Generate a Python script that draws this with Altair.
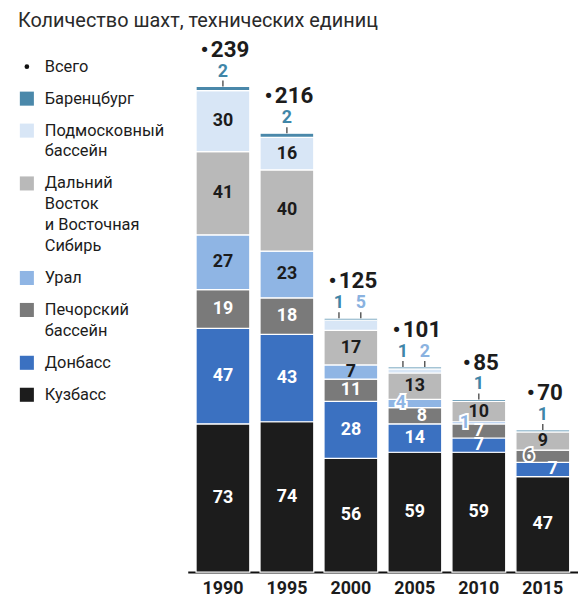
import altair as alt
import pandas as pd

# ---------------- data ----------------
years = ["1990", "1995", "2000", "2005", "2010", "2015"]
regions = ["Кузбасс", "Донбасс", "Печорский бассейн", "Урал",
           "Дальний Восток и Восточная Сибирь", "Подмосковный бассейн", "Баренцбург"]
kuzbass = [73, 74, 56, 59, 59, 47]
donbass = [47, 43, 28, 14, 7, 7]
pechora = [19, 18, 11, 8, 7, 6]
ural = [27, 23, 7, 4, 1, 0]
far_east = [41, 40, 17, 13, 10, 9]
podmoskovny = [30, 16, 5, 2, 0, 0]
barentsburg = [2, 2, 1, 1, 1, 1]
totals = [239, 216, 125, 101, 85, 70]

title_text = "Количество шахт, технических единиц"
legend_items = [["Всего"], ["Баренцбург"], ["Подмосковный", "бассейн"],
                ["Дальний", "Восток", "и Восточная", "Сибирь"], ["Урал"],
                ["Печорский", "бассейн"], ["Донбасс"], ["Кузбасс"]]

# ---------------- styles ----------------
colors = ["#1c1c1c", "#3b71c1", "#7a7a7a", "#8fb5e4", "#b9b9b9", "#d8e6f6", "#4a88aa"]
text_on = ["#ffffff", "#ffffff", "#ffffff", "#1c1c1c", "#1c1c1c", "#1c1c1c", "#1c1c1c"]
label_color_above = {"Баренцбург": "#3f86a8", "Подмосковный бассейн": "#8ab2e0"}
legend_colors = [None, colors[6], colors[5], colors[4], colors[3], colors[2], colors[1], colors[0]]
FONT = "Roboto"
W, H = 574, 566
TOP_PX = 77          # pixel y of top of the 239 bar
K = (H - TOP_PX) / 239.0
YMAX = H / K
shift_right = {("2005", "Печорский бассейн"): 7, ("2015", "Донбасс"): 10}

series = [kuzbass, donbass, pechora, ural, far_east, podmoskovny, barentsburg]

rows = []
for i, y in enumerate(years):
    base = 0
    for r, reg in enumerate(regions):
        v = series[r][i]
        rows.append(dict(year=y, region=reg, order=r, value=v, y0=base, y1=base + v,
                         mid=base + v / 2, color=colors[r], tcolor=text_on[r]))
        base += v
seg = pd.DataFrame(rows)
seg = seg[seg.value > 0]

xenc = alt.X("year:N", sort=years,
             scale=alt.Scale(range=[181, 574], paddingInner=0.16, paddingOuter=0.13),
             axis=alt.Axis(title=None, labelAngle=0, ticks=False, domainColor="#111111",
                           domainWidth=2, labelFont=FONT, labelFontSize=18,
                           labelFontWeight="bold", labelColor="#1c1c1c", labelPadding=8))
yscale = alt.Scale(domain=[0, YMAX], nice=False, zero=True)

bars = alt.Chart(seg).mark_bar(stroke="white", strokeWidth=1.2).encode(
    x=xenc,
    y=alt.Y("y0:Q", scale=yscale, axis=None),
    y2="y1:Q",
    color=alt.Color("color:N", scale=None, legend=None),
)

layers = [bars]

inside, outlined, above = [], [], []
tops = {y: totals[i] for i, y in enumerate(years)}
for _, r in seg.iterrows():
    if r.region == "Баренцбург":
        podm = podmoskovny[years.index(r.year)]
        dx = -12 if 0 < podm <= 5 else 0
        above.append(dict(year=r.year, top=tops[r.year], label=str(r.value),
                          c=label_color_above[r.region], dx=dx))
    elif r.region == "Подмосковный бассейн" and r.value <= 5:
        above.append(dict(year=r.year, top=tops[r.year], label=str(r.value),
                          c=label_color_above[r.region], dx=10))
    elif r.value <= 6:
        outlined.append(dict(year=r.year, mid=r.mid, label=str(r.value), c=r.color, dx=-14))
    else:
        inside.append(dict(year=r.year, mid=r.mid, label=str(r.value), c=r.tcolor,
                           dx=shift_right.get((r.year, r.region), 0)))

inside_df = pd.DataFrame(inside)
for dx in sorted(inside_df.dx.unique()):
    sub = inside_df[inside_df.dx == dx]
    layers.append(alt.Chart(sub).mark_text(font=FONT, fontSize=18, fontWeight="bold",
                                           dx=int(dx), baseline="middle").encode(
        x=alt.X("year:N", sort=years), y=alt.Y("mid:Q", scale=yscale),
        text="label:N", color=alt.Color("c:N", scale=None)))

out_df = pd.DataFrame(outlined)
layers.append(alt.Chart(out_df).mark_text(font=FONT, fontSize=18, fontWeight="bold", dx=-14,
                                          baseline="middle", stroke="white", strokeWidth=4,
                                          fill="white").encode(
    x=alt.X("year:N", sort=years), y=alt.Y("mid:Q", scale=yscale), text="label:N"))
layers.append(alt.Chart(out_df).mark_text(font=FONT, fontSize=18, fontWeight="bold", dx=-14,
                                          baseline="middle").encode(
    x=alt.X("year:N", sort=years), y=alt.Y("mid:Q", scale=yscale), text="label:N",
    color=alt.Color("c:N", scale=None)))

ab_df = pd.DataFrame(above)
ab_df["tick_top"] = ab_df["top"] + 6 / K
for dx in sorted(ab_df.dx.unique()):
    sub = ab_df[ab_df.dx == dx]
    layers.append(alt.Chart(sub).mark_rule(color="#333333", strokeWidth=1.2,
                                           xOffset=int(dx)).encode(
        x=alt.X("year:N", sort=years), y=alt.Y("top:Q", scale=yscale), y2="tick_top:Q"))
    layers.append(alt.Chart(sub).mark_text(font=FONT, fontSize=18, fontWeight="bold",
                                           dx=int(dx), dy=-15, baseline="middle").encode(
        x=alt.X("year:N", sort=years), y=alt.Y("top:Q", scale=yscale), text="label:N",
        color=alt.Color("c:N", scale=None)))

tot_df = pd.DataFrame(dict(year=years, total=totals,
                           label=["•\u200a" + str(t) for t in totals]))
layers.append(alt.Chart(tot_df).mark_text(font=FONT, fontSize=22.5, fontWeight="bold", dx=2,
                                          dy=-37, baseline="middle", color="#1c1c1c").encode(
    x=alt.X("year:N", sort=years), y=alt.Y("total:Q", scale=yscale), text="label:N"))

# title
layers.append(alt.Chart(pd.DataFrame({"t": [title_text]})).mark_text(
    font=FONT, fontSize=20, align="left", baseline="middle", color="#2a2a2a").encode(
    x=alt.value(10), y=alt.value(11), text="t:N"))

# legend (manual)
leg_sym, leg_txt = [], []
y = 57.0
for idx, lines in enumerate(legend_items):
    leg_sym.append(dict(px=19, py=y, c=legend_colors[idx] or "#111111",
                        shape="circle" if idx == 0 else "square",
                        size=22 if idx == 0 else 200))
    for j, ln in enumerate(lines):
        leg_txt.append(dict(px=37, py=y + j * 21.0, t=ln))
    y += (len(lines) - 1) * 21.0 + 32.2
sym_df = pd.DataFrame(leg_sym)
txt_df = pd.DataFrame(leg_txt)
layers.append(alt.Chart(sym_df).mark_point(filled=True, opacity=1).encode(
    x=alt.X("px:Q", scale=None, axis=None), y=alt.Y("py:Q", scale=None, axis=None),
    color=alt.Color("c:N", scale=None), shape=alt.Shape("shape:N", scale=None),
    size=alt.Size("size:Q", scale=None)))
layers.append(alt.Chart(txt_df).mark_text(font=FONT, fontSize=16.5, align="left",
                                          baseline="middle", color="#1c1c1c").encode(
    x=alt.X("px:Q", scale=None, axis=None), y=alt.Y("py:Q", scale=None, axis=None),
    text="t:N"))

chart = alt.layer(*layers).properties(width=W, height=H, padding=0).configure_view(stroke=None)
chart.save("out.html", embed_options={"renderer": "svg", "actions": False})
